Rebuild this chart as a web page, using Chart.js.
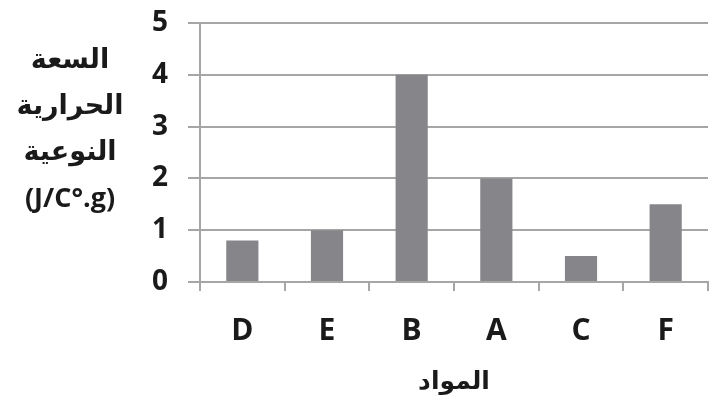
<!DOCTYPE html>
<html><head><meta charset="utf-8">
<script src="https://cdn.jsdelivr.net/npm/chart.js@4"></script>
<style>html,body{margin:0;padding:0;background:#fff}#wrap{width:718px;height:400px}</style>
</head><body><div id="wrap"><canvas id="c" width="718" height="400"></canvas></div>
<script>
const categories = ['D', 'E', 'B', 'A', 'C', 'F'];
const values = [0.8, 1.0, 4.0, 2.0, 0.5, 1.5];
const yMin = 0, yMax = 5, yStep = 1;
const yTitleLines = ['السعة', 'الحرارية', 'النوعية', '(J/C°.g)'];
const xTitle = 'المواد';

const FONT = '"Open Sans", "DejaVu Sans", sans-serif';
const GRID = '#a6a6a6';
const TXT = '#1a1a1a';

const yTitlePlugin = {
  id: 'yTitle',
  afterDraw(chart) {
    const ctx = chart.ctx;
    ctx.save();
    ctx.fillStyle = TXT;
    ctx.font = 'bold 27px ' + FONT;
    ctx.textAlign = 'center';
    ctx.textBaseline = 'middle';
    const ys = [60, 106, 152, 199];
    yTitleLines.forEach((t, i) => ctx.fillText(t, 70, ys[i]));
    ctx.restore();
  }
};

new Chart(document.getElementById('c'), {
  type: 'bar',
  data: {
    labels: categories,
    datasets: [{
      data: values,
      backgroundColor: '#86868a',
      borderWidth: 0,
      barPercentage: 0.38,
      categoryPercentage: 1
    }]
  },
  options: {
    responsive: false,
    animation: false,
    devicePixelRatio: 1,
    layout: { padding: { top: 23, right: 10, left: 0, bottom: 0 } },
    plugins: { legend: { display: false }, tooltip: { enabled: false } },
    scales: {
      x: {
        grid: { display: true, drawOnChartArea: false, drawTicks: true, tickLength: 9, color: GRID, lineWidth: 2, offset: true },
        border: { display: true, color: GRID, width: 2 },
        ticks: { color: TXT, font: { family: FONT, size: 30, weight: 'bold' }, padding: 22, maxRotation: 0 },
        title: { display: true, text: xTitle, color: TXT, font: { family: FONT, size: 25, weight: 'bold' }, padding: { top: 0, bottom: 3 } },
        afterFit(s) { s.height = 118; s.paddingLeft = 0; s.paddingRight = 0; }
      },
      y: {
        min: yMin, max: yMax,
        grid: { color: GRID, lineWidth: 2, tickLength: 12 },
        border: { display: true, color: GRID, width: 2 },
        ticks: { stepSize: yStep, color: TXT, font: { family: FONT, size: 28, weight: 'bold' }, padding: 20 },
        afterFit(s) { s.width = 200; s.paddingTop = 0; s.paddingBottom = 0; }
      }
    }
  },
  plugins: [yTitlePlugin]
});
</script>
</body></html>
